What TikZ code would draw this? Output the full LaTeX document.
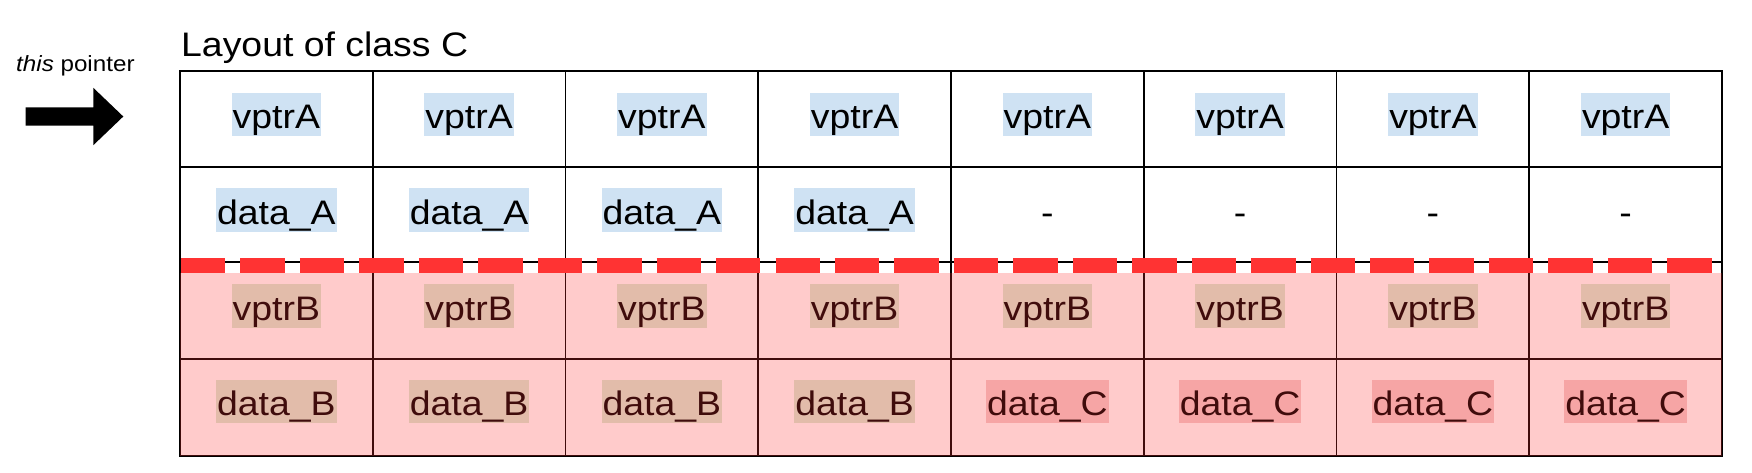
\documentclass[tikz,border=0pt]{standalone}
\usepackage{fontspec}
\setmainfont{Liberation Sans}[FakeStretch=1.1]
\definecolor{hlA}{HTML}{CFE2F3}
\definecolor{hlB}{HTML}{D9EAD3}
\definecolor{hlC}{HTML}{F4CCCC}
\definecolor{ovl}{HTML}{FF3333}
\definecolor{dashred}{HTML}{FF3333}
\begin{document}
\begin{tikzpicture}[x=1pt,y=-1pt,
  cell/.style={draw=black, line width=1.8pt, rectangle, inner sep=0pt, minimum width=192.75pt},
  txt/.style={anchor=base, inner xsep=1pt, inner ysep=0pt, text height=35.6pt, text depth=7.7pt, font=\fontsize{34}{40}\selectfont},
  hla/.style={txt, fill=hlA},
  hlb/.style={txt, fill=hlB},
  hlc/.style={txt, fill=hlC},
  plain/.style={txt}]
\useasboundingbox[fill=white] (0,0) rectangle (1752,472);

% title and pointer label
\node[anchor=base west, inner sep=0pt, font=\fontsize{34}{40}\selectfont] (title) at (181,56) {Layout of class C};
\node[anchor=base west, inner sep=0pt, font=\fontsize{22}{26}\selectfont] (ptrlabel) at (16,71) {\textit{this} pointer};

% this-pointer arrow
\fill[black] (25.7,107.3) -- (93.3,107.3) -- (93.3,87.8) -- (123.3,116.5) -- (93.3,145.2) -- (93.3,125.7) -- (25.7,125.7) -- cycle;

% cells and texts
\foreach \i in {1,...,8} {
  \pgfmathsetmacro\cx{180+192.75*(\i-0.5)}
  \node[cell, minimum height=95.7pt] (r1c\i) at (\cx,118.85) {};
  \node[cell, minimum height=95.3pt] (r2c\i) at (\cx,214.35) {};
  \node[cell, minimum height=97.3pt] (r3c\i) at (\cx,310.65) {};
  \node[cell, minimum height=96.4pt] (r4c\i) at (\cx,407.5) {};
  \node[hla] (t1c\i) at (\cx,128.3) {vptrA};
  \node[hlb] (t3c\i) at (\cx,320) {vptrB};
}
\foreach \i in {1,...,4} {
  \pgfmathsetmacro\cx{180+192.75*(\i-0.5)}
  \node[hla] (t2c\i) at (\cx,224) {data\_A};
  \node[hlb] (t4c\i) at (\cx,415.5) {data\_B};
}
\foreach \i in {5,...,8} {
  \pgfmathsetmacro\cx{180+192.75*(\i-0.5)}
  \node[plain] (t2c\i) at (\cx,224) {-};
  \node[hlc] (t4c\i) at (\cx,415.5) {data\_C};
}

% translucent red overlay on the lower part
\fill[ovl, opacity=0.25] (180,272.7) rectangle (1722,455.7);

% red dashed separator
\draw[dashred, line width=14.4pt, dash pattern=on 44.4pt off 15.05pt] (181,265.5) -- (1722,265.5);
\end{tikzpicture}
\end{document}
